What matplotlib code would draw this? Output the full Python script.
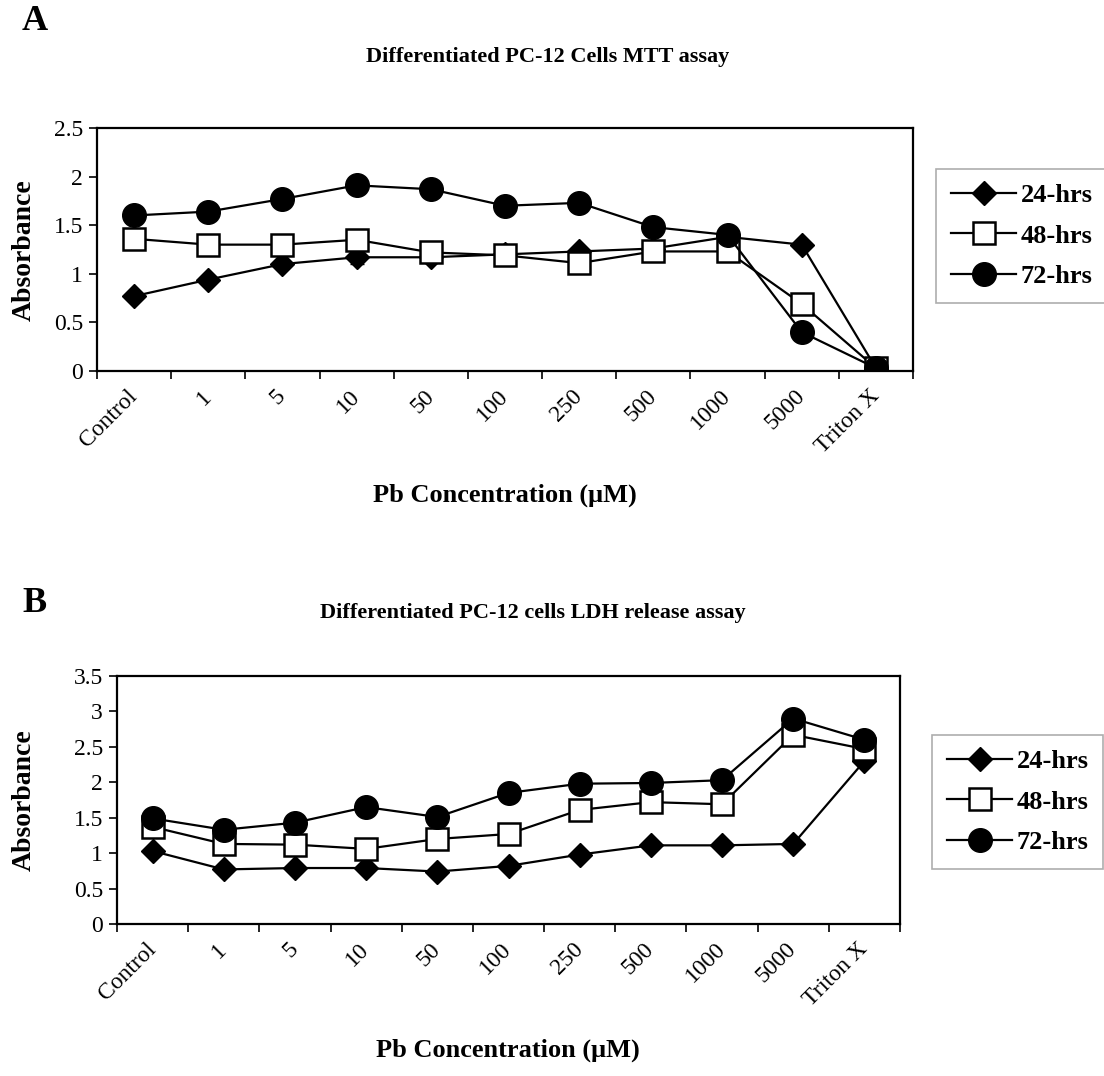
import matplotlib
matplotlib.use("Agg")
import matplotlib.pyplot as plt
from matplotlib.lines import Line2D
import numpy as np

plt.rcParams['font.family'] = ['Liberation Serif', 'DejaVu Serif']

categories = ['Control', '1', '5', '10', '50', '100', '250', '500', '1000', '5000', 'Triton X']
series_names = ['24-hrs', '48-hrs', '72-hrs']

# panel A - MTT assay
mtt_24 = [0.77, 0.94, 1.10, 1.17, 1.17, 1.20, 1.23, 1.26, 1.38, 1.30, 0.03]
mtt_48 = [1.36, 1.30, 1.30, 1.35, 1.22, 1.19, 1.11, 1.23, 1.23, 0.69, 0.03]
mtt_72 = [1.60, 1.64, 1.77, 1.91, 1.87, 1.70, 1.73, 1.48, 1.40, 0.40, 0.03]
mtt_24_err = [0.02, 0.03, 0.04, 0.07, 0.04, 0.04, 0.04, 0.03, 0.03, 0.03, 0.01]
mtt_48_err = [0.03, 0.03, 0.03, 0.03, 0.03, 0.03, 0.03, 0.03, 0.03, 0.03, 0.01]
mtt_72_err = [0.03, 0.03, 0.04, 0.09, 0.08, 0.05, 0.04, 0.06, 0.03, 0.03, 0.01]

# panel B - LDH release assay
ldh_24 = [1.03, 0.77, 0.79, 0.79, 0.74, 0.82, 0.98, 1.11, 1.11, 1.13, 2.30]
ldh_48 = [1.37, 1.13, 1.12, 1.06, 1.20, 1.27, 1.61, 1.72, 1.69, 2.67, 2.47]
ldh_72 = [1.49, 1.33, 1.43, 1.65, 1.51, 1.85, 1.98, 1.99, 2.03, 2.90, 2.60]

W, H = 1104, 1076
fig = plt.figure(figsize=(W / 100, H / 100), dpi=100)

styles = [
    dict(marker='D', markersize=12, markerfacecolor='black', markeredgecolor='black'),
    dict(marker='s', markersize=16, markerfacecolor='white', markeredgecolor='black', markeredgewidth=1.8),
    dict(marker='o', markersize=17, markerfacecolor='black', markeredgecolor='black'),
]


def px_axes(l, t, r, b):
    return fig.add_axes([l / W, 1 - b / H, (r - l) / W, (b - t) / H])


def draw_panel(ax, data, errs, ymax, ystep):
    x = np.arange(len(categories))
    for i, vals in enumerate(data):
        if errs is not None:
            ax.errorbar(x, vals, yerr=errs[i], color='black', lw=1.6, capsize=5,
                        elinewidth=1.4, zorder=3 + i, **styles[i])
        else:
            ax.plot(x, vals, color='black', lw=1.6, zorder=3 + i, **styles[i])
    ax.set_xlim(-0.5, len(categories) - 0.5)
    ax.set_ylim(0, ymax)
    yt = np.arange(0, ymax + 0.01, ystep)
    ax.set_yticks(yt)
    ax.set_yticklabels([f'{v:g}' for v in yt], fontsize=17)
    ax.set_xticks(x)
    ax.set_xticklabels(categories, rotation=45, ha='right', va='center',
                       rotation_mode='anchor', fontsize=17)
    ax.set_xticks(np.arange(-0.5, len(categories)), minor=True)
    ax.tick_params(axis='x', which='major', length=0, pad=16)
    ax.tick_params(axis='x', which='minor', length=6, width=1.2, direction='out')
    ax.tick_params(axis='y', length=6, width=1.2, direction='out', pad=4)
    for s in ax.spines.values():
        s.set_linewidth(1.6)


axA = px_axes(97, 128, 913, 371)
draw_panel(axA, [mtt_24, mtt_48, mtt_72], [mtt_24_err, mtt_48_err, mtt_72_err], 2.5, 0.5)
axB = px_axes(117, 676, 900, 924)
draw_panel(axB, [ldh_24, ldh_48, ldh_72], None, 3.5, 0.5)

handles = [Line2D([], [], color='black', lw=1.6, **st) for st in styles]
for lx, ty in [(936, 169), (932, 735)]:
    leg = fig.legend(handles, series_names, loc='upper left', bbox_to_anchor=(lx / W, 1 - ty / H),
                     bbox_transform=fig.transFigure, frameon=True, fancybox=False,
                     prop=dict(size=19, weight='bold'), handlelength=2.5, labelspacing=0.65,
                     borderpad=0.55, handletextpad=0.15, borderaxespad=0)
    leg.get_frame().set_edgecolor('#999999')
    leg.get_frame().set_linewidth(1.2)

fig.text(22 / W, 1 - 22 / H, 'A', fontsize=26, fontweight='bold', va='center', ha='left')
fig.text(548 / W, 1 - 57 / H, 'Differentiated PC-12 Cells MTT assay', fontsize=16,
         fontweight='bold', ha='center', va='center')
fig.text(24 / W, 1 - 250 / H, 'Absorbance', fontsize=20, fontweight='bold',
         rotation=90, ha='center', va='center')
fig.text(505 / W, 1 - 495 / H, 'Pb Concentration (\u03bcM)', fontsize=19,
         fontweight='bold', ha='center', va='center')

fig.text(22 / W, 1 - 603 / H, 'B', fontsize=26, fontweight='bold', va='center', ha='left')
fig.text(533 / W, 1 - 613 / H, 'Differentiated PC-12 cells LDH release assay', fontsize=16,
         fontweight='bold', ha='center', va='center')
fig.text(24 / W, 1 - 800 / H, 'Absorbance', fontsize=20, fontweight='bold',
         rotation=90, ha='center', va='center')
fig.text(508 / W, 1 - 1050 / H, 'Pb Concentration (\u03bcM)', fontsize=19,
         fontweight='bold', ha='center', va='center')

fig.savefig('out.png', dpi=100)
